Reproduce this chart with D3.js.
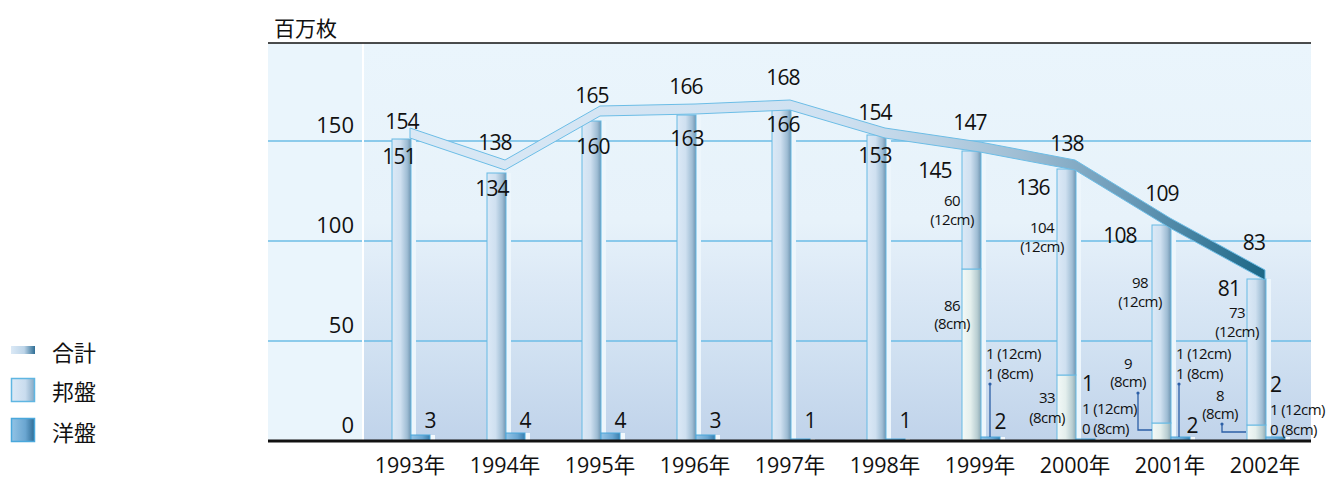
<!DOCTYPE html>
<html><head><meta charset="utf-8">
<script src="https://cdn.jsdelivr.net/npm/d3@7"></script>
<style>
html,body{margin:0;padding:0;background:#fff;}
svg text{font-family:"Open Sans","Noto Sans CJK JP",sans-serif;fill:#111;}
</style></head>
<body><svg id="chart" width="1328" height="477"></svg>
<script>
// ---- data ----
const years = ["1993","1994","1995","1996","1997","1998","1999","2000","2001","2002"];
const yearLabels = ["1993年","1994年","1995年","1996年","1997年","1998年","1999年","2000年","2001年","2002年"];
const totals   = [154,138,165,166,168,154,147,138,109,83];
const domestic = [151,134,160,163,166,153,145,136,108,81];
const domestic12 = [null,null,null,null,null,null,60,104,98,73];
const domestic8  = [null,null,null,null,null,null,86,33,9,8];
const foreign   = [3,4,4,3,1,1,2,1,2,2];
const foreign12 = [null,null,null,null,null,null,1,1,1,1];
const foreign8  = [null,null,null,null,null,null,1,0,1,0];
const yTicks = [0,50,100,150];
const unitLabel = "百万枚";
const legendItems = ["合計","邦盤","洋盤"];

(function(){
// ---- layout ----
const svg = d3.select("#chart");
const plotL = 268, plotR = 1311, plotT = 43, panelL = 364;
const x = d3.scalePoint().domain(years).range([410,1265]);
const y = d3.scaleLinear().domain([0,150]).range([441,141]);
const y0 = y(0);
const totalDy = [-12,-23,-16,-23,-28,-21,-25,-22,-30,-33];
const totalDx = [-8,-10,-8,-9,-7,-10,-10,-8,-8,-11];
const domDy   = [17,15,25,23,15,20,19,18,10,9];
const domDx   = [-11,-13,-7,-8,-7,-10,-45,-42,-50,-36];

const defs = svg.append("defs");
function lg(id, stops, attrs){
  const g = defs.append("linearGradient").attr("id",id);
  Object.entries(attrs||{x1:0,y1:0,x2:1,y2:0}).forEach(([k,v])=>g.attr(k,v));
  stops.forEach(s=>g.append("stop").attr("offset",s[0]).attr("stop-color",s[1]));
}
lg("bg",[[0,"#eaf5fc"],[0.45,"#e7f2fa"],[0.6,"#dce9f6"],[0.75,"#d2e2f2"],[1,"#c0d3ea"]],{x1:0,y1:0,x2:0,y2:1});
lg("barMain",[[0,"#dce9f6"],[0.45,"#cfe0f0"],[0.8,"#9fbdd4"],[1,"#6f94b0"]]);
lg("bar8",[[0,"#f3f9f7"],[0.45,"#e4efed"],[0.8,"#b9ced2"],[1,"#8eaab5"]]);
lg("barFor",[[0,"#93c4e6"],[0.6,"#6aa7d3"],[1,"#3a7fae"]]);
lg("band",[[0,"#d9e8f5"],[0.5,"#cfe1f1"],[0.62,"#b8d0e3"],[0.72,"#9dbcd2"],[0.85,"#6597b5"],[1,"#1c6786"]],
   {gradientUnits:"userSpaceOnUse",x1:410,y1:0,x2:1265,y2:0});
lg("legTot",[[0,"#dbe9f6"],[0.55,"#bcd4e8"],[1,"#2f6e95"]]);
lg("legDom",[[0,"#dce9f6"],[0.6,"#c9dcee"],[1,"#86a9c4"]]);
lg("legFor",[[0,"#92c3e5"],[0.6,"#6ba6d1"],[1,"#2f6c95"]]);

// background panels
svg.append("rect").attr("x",plotL).attr("y",plotT).attr("width",panelL-2-plotL).attr("height",y0-plotT).attr("fill","#eaf5fc");
svg.append("rect").attr("x",panelL).attr("y",plotT).attr("width",plotR-panelL).attr("height",y0-plotT).attr("fill","url(#bg)");
svg.append("line").attr("x1",plotL).attr("x2",plotR).attr("y1",plotT).attr("y2",plotT).attr("stroke","#111").attr("stroke-width",1.5);
svg.append("text").attr("x",274).attr("y",28).attr("dominant-baseline","central").style("font-size","21px").text(unitLabel);

// gridlines (two pieces: left panel and main panel)
const gl = svg.append("g");
yTicks.filter(d=>d>0).forEach(d=>{
  gl.append("line").attr("x1",plotL).attr("x2",panelL-2).attr("y1",y(d)).attr("y2",y(d)).attr("stroke","#6dbde6").attr("stroke-width",1.5);
  gl.append("line").attr("x1",panelL).attr("x2",plotR).attr("y1",y(d)).attr("y2",y(d)).attr("stroke","#6dbde6").attr("stroke-width",1.5);
});
svg.append("g").selectAll("text").data(yTicks).join("text")
  .attr("x",354).attr("y",d=>y(d)-17).attr("text-anchor","end").attr("dominant-baseline","central")
  .style("font-size","22px").text(d=>d);

// light strips beside bars
const bw = 19;
svg.append("g").selectAll("rect").data(years).join("rect")
  .attr("x",d=>x(d)+1).attr("y",(d,i)=>y(domestic[i])).attr("width",5).attr("height",(d,i)=>y0-y(domestic[i]))
  .attr("fill","#edf6fc");
svg.append("g").selectAll("rect").data(years).join("rect")
  .attr("x",d=>x(d)+1+bw).attr("y",(d,i)=>y(foreign[i])).attr("width",5).attr("height",(d,i)=>y0-y(foreign[i]))
  .attr("fill","#f3f9fd");

// main bars
const gb = svg.append("g");
years.forEach((yr,i)=>{
  const bx = x(yr)-18;
  if(domestic8[i]!=null){
    gb.append("rect").attr("x",bx).attr("y",y(domestic8[i])).attr("width",bw).attr("height",y0-y(domestic8[i]))
      .attr("fill","url(#bar8)").attr("stroke","#66b9e3").attr("stroke-width",1);
    gb.append("rect").attr("x",bx).attr("y",y(domestic[i])).attr("width",bw).attr("height",y(domestic8[i])-y(domestic[i]))
      .attr("fill","url(#barMain)").attr("stroke","#66b9e3").attr("stroke-width",1);
  } else {
    gb.append("rect").attr("x",bx).attr("y",y(domestic[i])).attr("width",bw).attr("height",y0-y(domestic[i]))
      .attr("fill","url(#barMain)").attr("stroke","#66b9e3").attr("stroke-width",1);
  }
  gb.append("rect").attr("x",x(yr)+1).attr("y",y(foreign[i])).attr("width",bw).attr("height",y0-y(foreign[i]))
    .attr("fill","url(#barFor)").attr("stroke","#4aa8dc").attr("stroke-width",1);
});

// baseline axis
svg.append("line").attr("x1",plotL).attr("x2",plotR).attr("y1",y0).attr("y2",y0).attr("stroke","#111").attr("stroke-width",3);

// total band
const half = 5;
const upper = years.map((yr,i)=>[x(yr),y(totals[i])-half]);
const lower = years.map((yr,i)=>[x(yr),y(totals[i])+half]).reverse();
svg.append("path").attr("d",d3.line()(upper.concat(lower))+"Z")
  .attr("fill","url(#band)").attr("stroke","#6cbde6").attr("stroke-width",1);

// x labels
svg.append("g").selectAll("text").data(yearLabels).join("text")
  .attr("x",(d,i)=>x(years[i])).attr("y",464).attr("text-anchor","middle").attr("dominant-baseline","central")
  .style("font-size","21.5px").text(d=>d);

// value labels
const big = "21px", small = "15px";
function t(xx,yy,txt,size,anchor){
  svg.append("text").attr("x",xx).attr("y",yy).attr("text-anchor",anchor||"middle").attr("dominant-baseline","central")
    .style("font-size",size).style("letter-spacing", size===big?"-0.8px":"-0.6px").text(txt);
}
function t2(xx,yy,l1,l2,gap,anchor){
  const el = svg.append("text").attr("x",xx).attr("y",yy).attr("text-anchor",anchor||"middle")
    .attr("dominant-baseline","central").style("font-size",small).style("letter-spacing","-0.6px");
  el.append("tspan").attr("x",xx).attr("y",yy).text(l1);
  el.append("tspan").attr("x",xx).attr("y",yy+gap).text(l2);
}
years.forEach((yr,i)=>{
  const c = x(yr);
  t(c+totalDx[i], y(totals[i])+totalDy[i], totals[i], big);
  t(c+domDx[i], y(domestic[i])+domDy[i], domestic[i], big);
});
years.forEach((yr,i)=>{ if(foreign12[i]==null) t(x(yr)+20, y0-21, foreign[i], big); });

function seg(i,dx12,dy12,dx8,y8,g8){
  const c = x(years[i]);
  t2(c+dx12, y(domestic[i])+dy12, domestic12[i], "(12cm)", 19);
  t2(c+dx8, y8, domestic8[i], "(8cm)", g8||18);
}
function forLines(i,dx,yA){
  const c = x(years[i]);
  t2(c+dx, yA, foreign12[i]+" (12cm)", foreign8[i]+" (8cm)", 20, "start");
}
const ln = (pts)=>svg.append("path").attr("d",d3.line()(pts)).attr("fill","none").attr("stroke","#2c5fa6").attr("stroke-width",1.3);
const dot = (xx,yy)=>svg.append("circle").attr("cx",xx).attr("cy",yy).attr("r",1.6).attr("fill","#2c5fa6");
{ const i=6,c=x(years[i]);
  seg(i,-28,49,-28,y(domestic8[i])+36,18);
  forLines(i,6,y0-88);
  ln([[c+10,y0-57],[c+10,y0-4]]); dot(c+10,y0-57);
  t(c+20,y0-20,foreign[i],big); }
{ const i=7,c=x(years[i]);
  seg(i,-33,58,-28,y(domestic8[i])+22,20);
  t(c+7,y0-58,foreign[i],big,"start");
  forLines(i,7,y0-33); }
{ const i=8,c=x(years[i]);
  seg(i,-30,57,-42,y0-78,18);
  ln([[c-32,y0-48],[c-32,y0-11],[c-18,y0-11]]); dot(c-32,y0-48);
  forLines(i,6,y0-88);
  ln([[c+9,y0-57],[c+9,y0-4]]); dot(c+9,y0-57);
  t(c+22,y0-16,foreign[i],big); }
{ const i=9,c=x(years[i]);
  seg(i,-28,33,-45,y0-46,18);
  ln([[c-43,y0-17],[c-43,y0-9],[c-19,y0-9]]); dot(c-43,y0-17);
  t(c+5,y0-57,foreign[i],big,"start");
  forLines(i,5,y0-32); }

// legend
const lgd = svg.append("g");
lgd.append("rect").attr("x",11).attr("y",346).attr("width",24).attr("height",8).attr("fill","url(#legTot)");
lgd.append("rect").attr("x",11.5).attr("y",378.5).attr("width",23).attr("height",23).attr("fill","url(#legDom)").attr("stroke","#5fb6e2").attr("stroke-width",1.5);
lgd.append("rect").attr("x",11.5).attr("y",418.5).attr("width",23).attr("height",23).attr("fill","url(#legFor)").attr("stroke","#4aa8dc").attr("stroke-width",1.5);
lgd.selectAll("text").data(legendItems).join("text")
  .attr("x",52).attr("y",(d,i)=>[352,391,432][i]).attr("dominant-baseline","central")
  .style("font-size","22px").text(d=>d);
})();
</script></body></html>
